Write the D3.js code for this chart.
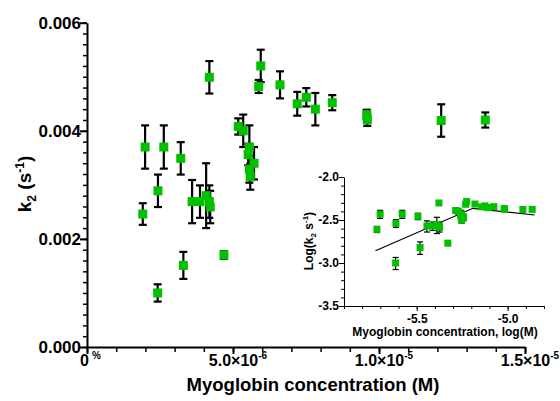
<!DOCTYPE html>
<html>
<head>
<meta charset="utf-8">
<script src="https://cdn.jsdelivr.net/npm/d3@7"></script>
<style>
  body { margin: 0; background: #fff; }
  text { font-family: "Liberation Sans", Arial, sans-serif; font-weight: bold; }
</style>
</head>
<body>
<div id="chart"></div>
<script>
// myoglobin concentration (M), k2 (s^-1) and its error
const concentration = [
  1.99e-6, 2.63e-6, 3.21e-6, 2.43e-6, 1.91e-6, 3.60e-6, 3.87e-6, 4.08e-6,
  4.19e-6, 4.22e-6, 4.69e-6, 3.30e-6, 2.42e-6, 4.19e-6, 5.95e-6, 5.88e-6,
  6.61e-6, 7.20e-6, 7.51e-6, 7.82e-6, 8.40e-6, 9.58e-6, 9.60e-6, 12.13e-6,
  13.64e-6, 5.18e-6, 5.35e-6, 5.56e-6, 5.52e-6, 5.72e-6, 5.56e-6, 5.59e-6
];
const k2 = [
  0.00370, 0.00370, 0.00349, 0.00289, 0.00246, 0.00269, 0.00269, 0.00280,
  0.00269, 0.00259, 0.00170, 0.00151, 0.00100, 0.00499, 0.00520, 0.00482,
  0.00485, 0.00450, 0.00462, 0.00440, 0.00452, 0.00430, 0.00420, 0.00419,
  0.00420, 0.00408, 0.00400, 0.00370, 0.00356, 0.00340, 0.00329, 0.00315
];
const k2Error = [
  0.00040, 0.00040, 0.00030, 0.00030, 0.00020, 0.00040, 0.00030, 0.00060,
  0.00030, 0.00030, 0.00007, 0.00025, 0.00016, 0.00030, 0.00030, 0.00012,
  0.00025, 0.00022, 0.00017, 0.00030, 0.00014, 0.00009, 0.00011, 0.00030,
  0.00014, 0.00015, 0.00030, 0.00040, 0.00020, 0.00030, 0.00025, 0.00024
];
// broken-line fit shown in the inset (log10 M, log10 k2)
const fitLogX = [-5.727, -5.191, -4.852];
const fitLogY = [-2.857, -2.364, -2.442];

const mainYTicks = [0, 0.002, 0.004, 0.006];
const mainXTicks = [0, 5e-6, 1e-5, 1.5e-5];
const mainXTickLabels = [
  {m: "0", e: "%"},
  {m: "5.0\u00d710", e: "-6"},
  {m: "1.0\u00d710", e: "-5"},
  {m: "1.5\u00d710", e: "-5"}
];
const insetYTicks = [-3.5, -3.0, -2.5, -2.0];
const insetXTicks = [-5.5, -5.0];

const W = 560, H = 401;
const green = "#00c000";

const svg = d3.select("#chart").append("svg")
    .attr("width", W)
    .attr("height", H);

const data = concentration.map((c, i) => ({x: c, y: k2[i], err: k2Error[i]}));

// ---------- main plot ----------
const xScale = d3.scaleLinear().domain([0, 1.5e-5]).range([87, 525]);
const yScale = d3.scaleLinear().domain([0, 0.006]).range([347, 22.7]);

// minor ticks
svg.append("g")
    .attr("transform", "translate(87,0)")
    .call(d3.axisLeft(yScale).tickValues(d3.range(0, 0.00601, 0.0002)).tickSize(4).tickFormat(""))
    .call(g => g.select(".domain").remove())
    .call(g => g.selectAll("line").attr("stroke-width", 1.5));
svg.append("g")
    .attr("transform", "translate(0,347)")
    .call(d3.axisBottom(xScale).tickValues(d3.range(0, 1.501e-5, 1e-6)).tickSize(5).tickFormat(""))
    .call(g => g.select(".domain").remove())
    .call(g => g.selectAll("line").attr("stroke-width", 1.5));

// major ticks + labels
const yAxisG = svg.append("g")
    .attr("transform", "translate(87,0)")
    .call(d3.axisLeft(yScale).tickValues(mainYTicks).tickSize(7).tickSizeOuter(0).tickFormat(d3.format(".3f")));
yAxisG.select(".domain").attr("stroke-width", 2);
yAxisG.selectAll("line").attr("stroke-width", 2);
yAxisG.selectAll("text").style("font-size", "17px").attr("fill", "#000").attr("x", -6);

const xAxisG = svg.append("g")
    .attr("transform", "translate(0,347)")
    .call(d3.axisBottom(xScale).tickValues(mainXTicks).tickSize(7).tickSizeOuter(0).tickFormat(""));
xAxisG.select(".domain").attr("stroke-width", 2);
xAxisG.selectAll("line").attr("stroke-width", 2);
xAxisG.selectAll("text").remove();

// x tick labels with superscript exponents
const xLabelG = svg.append("g");
mainXTicks.forEach((v, i) => {
  const t = xLabelG.append("text")
      .attr("x", xScale(v) + (i === 0 ? -7 : 5))
      .attr("y", 366)
      .attr("text-anchor", i === 0 ? "start" : "middle")
      .attr("fill", "#000")
      .style("font-size", "16px");
  t.append("tspan").text(mainXTickLabels[i].m);
  t.append("tspan").attr("dx", i === 0 ? 3 : 0).attr("dy", -7).style("font-size", "10px").text(mainXTickLabels[i].e);
});

// axis titles
svg.append("text")
    .attr("x", 313).attr("y", 391)
    .attr("text-anchor", "middle")
    .style("font-size", "18.5px")
    .text("Myoglobin concentration (M)");

const yTitle = svg.append("text")
    .attr("transform", "translate(31,184) rotate(-90)")
    .attr("text-anchor", "middle")
    .style("font-size", "19px");
yTitle.append("tspan").text("k");
yTitle.append("tspan").attr("dy", 5).style("font-size", "12px").text("2");
yTitle.append("tspan").attr("dy", -5).text(" (s");
yTitle.append("tspan").attr("dy", -7).style("font-size", "12px").text("-1");
yTitle.append("tspan").attr("dy", 7).text(")");

// error bars
const eb = svg.append("g").attr("stroke", "#000").attr("stroke-width", 2.2);
data.forEach(d => {
  const x = xScale(d.x), y0 = yScale(d.y - d.err), y1 = yScale(d.y + d.err);
  eb.append("line").attr("x1", x).attr("x2", x).attr("y1", y0).attr("y2", y1);
  eb.append("line").attr("x1", x - 4).attr("x2", x + 4).attr("y1", y0).attr("y2", y0);
  eb.append("line").attr("x1", x - 4).attr("x2", x + 4).attr("y1", y1).attr("y2", y1);
});

svg.append("g").selectAll("rect")
    .data(data)
    .join("rect")
    .attr("x", d => xScale(d.x) - 4.5)
    .attr("y", d => yScale(d.y) - 4.5)
    .attr("width", 9)
    .attr("height", 9)
    .attr("fill", green);

// ---------- inset ----------
const ixScale = d3.scaleLinear().domain([-5.9, -4.8]).range([344, 544]);
const iyScale = d3.scaleLinear().domain([-3.5, -2.0]).range([306, 177]);

svg.append("g")
    .attr("transform", "translate(344,0)")
    .call(d3.axisLeft(iyScale).tickValues(d3.range(-3.5, -1.99, 0.1)).tickSize(3).tickFormat(""))
    .call(g => g.select(".domain").remove());
svg.append("g")
    .attr("transform", "translate(0,306)")
    .call(d3.axisBottom(ixScale).tickValues(d3.range(-5.9, -4.79, 0.1)).tickSize(3).tickFormat(""))
    .call(g => g.select(".domain").remove());

const iyAxisG = svg.append("g")
    .attr("transform", "translate(344,0)")
    .call(d3.axisLeft(iyScale).tickValues(insetYTicks).tickSize(5).tickSizeOuter(0).tickFormat(d => d.toFixed(1)));
iyAxisG.selectAll("text").style("font-size", "12px").attr("fill", "#000").attr("x", -5);

const ixAxisG = svg.append("g")
    .attr("transform", "translate(0,306)")
    .call(d3.axisBottom(ixScale).tickValues(insetXTicks).tickSize(5).tickSizeOuter(0).tickFormat(d => d.toFixed(1)));
ixAxisG.selectAll("text").style("font-size", "12px").attr("fill", "#000").attr("y", 8);

svg.append("text")
    .attr("x", 445).attr("y", 336)
    .attr("text-anchor", "middle")
    .style("font-size", "12px")
    .text("Myoglobin concentration, log(M)");

const iyTitle = svg.append("text")
    .attr("transform", "translate(313,241) rotate(-90)")
    .attr("text-anchor", "middle")
    .style("font-size", "12px");
iyTitle.append("tspan").text("Log(k");
iyTitle.append("tspan").attr("dy", 3).style("font-size", "8px").text("2");
iyTitle.append("tspan").attr("dy", -3).text(" s");
iyTitle.append("tspan").attr("dy", -5).style("font-size", "8px").text("-1");
iyTitle.append("tspan").attr("dy", 5).text(")");

// fit line
svg.append("path")
    .datum(fitLogX.map((x, i) => [x, fitLogY[i]]))
    .attr("fill", "none")
    .attr("stroke", "#000")
    .attr("stroke-width", 1.2)
    .attr("d", d3.line().x(d => ixScale(d[0])).y(d => iyScale(d[1])));

const ieb = svg.append("g").attr("stroke", "#000").attr("stroke-width", 1.2);
data.forEach(d => {
  const x = ixScale(Math.log10(d.x));
  const y0 = iyScale(Math.log10(d.y - d.err)), y1 = iyScale(Math.log10(d.y + d.err));
  ieb.append("line").attr("x1", x).attr("x2", x).attr("y1", y0).attr("y2", y1);
  ieb.append("line").attr("x1", x - 3).attr("x2", x + 3).attr("y1", y0).attr("y2", y0);
  ieb.append("line").attr("x1", x - 3).attr("x2", x + 3).attr("y1", y1).attr("y2", y1);
});

svg.append("g").selectAll("rect")
    .data(data)
    .join("rect")
    .attr("x", d => ixScale(Math.log10(d.x)) - 3.5)
    .attr("y", d => iyScale(Math.log10(d.y)) - 3.5)
    .attr("width", 7)
    .attr("height", 7)
    .attr("fill", green);
</script>
</body>
</html>
